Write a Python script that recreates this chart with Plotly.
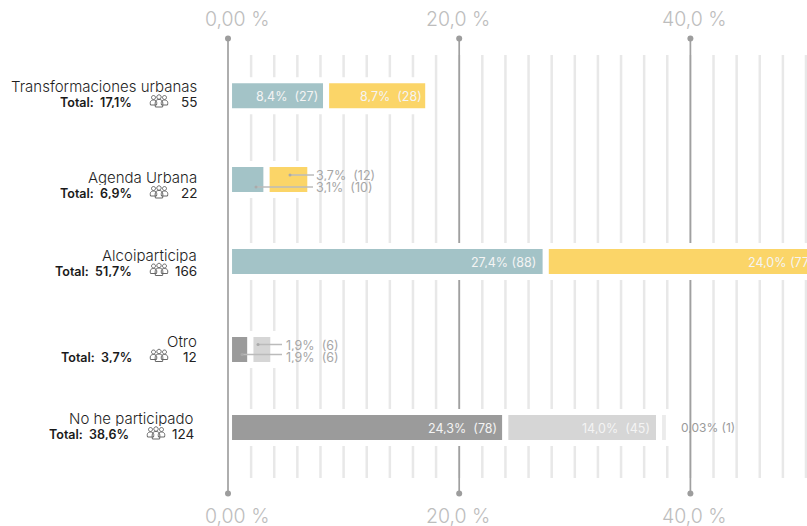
import plotly.graph_objects as go

# ---- data ----
rows = ["Transformaciones urbanas", "Agenda Urbana", "Alcoiparticipa", "Otro", "No he participado"]
totals = ["17,1%", "6,9%", "51,7%", "3,7%", "38,6%"]
counts = ["55", "22", "166", "12", "124"]
seg1 = [8.4, 3.25, 27.4, 1.85, 23.9]
seg2 = [8.85, 3.8, 24.0, 2.0, 13.3]
seg3 = [0, 0, 0, 0, 0.85]
labels1 = ["8,4%  (27)", "3,1%  (10)", "27,4% (88)", "1,9%  (6)", "24,3%  (78)"]
labels2 = ["8,7%  (28)", "3,7%  (12)", "24,0% (77)", "1,9%  (6)", "14,0%  (45)"]
major_ticks = [0, 20, 40]
major_text_top = ["0,00 %", "20,0 %", "40,0 %"]
grid_vals = list(range(2, 52, 2))

# ---- layout helpers ----
W, H = 807, 526
ZERO = 228.0
UNIT = 11.56
row_y = [95.7, 179.5, 261.5, 349.5, 427.5]
name_y = [86.5, 177, 255, 341.5, 418]
total_y = [102, 193, 270.5, 356.5, 434]
base0 = 0.09
colors1 = ["#A3C3C7", "#A3C3C7", "#A3C3C7", "#9B9B9B", "#9B9B9B"]
colors2 = ["#FBD568", "#FBD568", "#FBD568", "#D6D6D6", "#D6D6D6"]
colors3 = ["#EBEBEB"] * 5
FONT = "Inter"


def d(px):
    return (px - ZERO) / UNIT


fig = go.Figure()

# grid
gx, gy = [], []
for v in grid_vals:
    gx += [v, v, None]
    gy += [55, 478, None]
fig.add_trace(go.Scatter(x=gx, y=gy, mode="lines", line=dict(color="#E8E8E8", width=2.5), zorder=-3, hoverinfo="skip"))

# main axis lines
for v in major_ticks:
    fig.add_trace(go.Scatter(x=[v, v], y=[38.5, 493.5], mode="lines+markers",
                             line=dict(color="#A0A0A0", width=1.7), marker=dict(color="#9D9D9D", size=6),
                             zorder=2 if v == 0 else -2, hoverinfo="skip"))

# bars
b2 = [base0 + a for a in seg1]
b3 = [base0 + a + b for a, b in zip(seg1, seg2)]
for vals, base, cols in [(seg1, [base0] * 5, colors1), (seg2, b2, colors2), (seg3, b3, colors3)]:
    fig.add_trace(go.Bar(x=vals, y=row_y, base=base, orientation="h", width=31, zorder=0,
                         marker=dict(color=cols, line=dict(color="white", width=6)), hoverinfo="skip"))

# leader lines
leaders = [
    (290, 314, 175), (256, 313, 187), (258, 282, 344.5), (242, 282, 354.5),
]
for x0, x1, y in leaders:
    fig.add_trace(go.Scatter(x=[d(x0), d(x1)], y=[y, y], mode="lines", line=dict(color="#BBBBBB", width=1.5),
                             zorder=3, hoverinfo="skip"))
    fig.add_trace(go.Scatter(x=[d(x0)], y=[y], mode="markers", marker=dict(color="#AAAAAA", size=3),
                             zorder=3, hoverinfo="skip"))


def text(px, py, s, size, color, anchor="right", weight=400):
    fig.add_annotation(x=d(px), y=py, text=s, showarrow=False, xanchor=anchor, yanchor="middle",
                       xref="x", yref="y", borderpad=0, borderwidth=0, height=round(size * 1.0),
                       valign="middle",
                       font=dict(family=FONT, size=size, color=color, weight=weight))


# axis tick labels
tick_px = [236.5, 458, 694]
for px, s in zip(tick_px, major_text_top):
    text(px, 19, s, 19.5, "#BDBDBD", "center", 300)
    text(px, 515.5, s, 19.5, "#BDBDBD", "center", 300)

# in-bar labels
WHITE = "#F4F4F4"
text(318, 95.7, labels1[0], 12.5, WHITE)
text(422, 95.7, labels2[0], 12.5, WHITE)
text(536, 261.5, labels1[2], 12.5, WHITE)
text(748, 261.5, labels2[2], 12.5, WHITE, "left")
text(497, 427.5, labels1[4], 12.5, WHITE)
text(650, 427.5, labels2[4], 12.5, WHITE)

# outside labels
GREY = "#A6A6A6"
text(316, 174.5, labels2[1], 12.5, GREY, "left")
text(316, 186.5, labels1[1], 12.5, GREY, "left")
text(286, 344.5, labels2[3], 12.5, GREY, "left")
text(286, 356.5, labels1[3], 12.5, GREY, "left")
text(681, 427, "0,03% (1)", 12, "#9A9A9A", "left")

# row labels
right_name = [197, 197, 197, 197, 194]
right_total = [132, 132, 132, 132, 129]
icon_x = [159, 159, 159, 159, 156]


def circle(cx, cy, r):
    k = r * 0.55
    return (f"M{cx - r},{cy} C{cx - r},{cy + k} {cx - k},{cy + r} {cx},{cy + r} "
            f"C{cx + k},{cy + r} {cx + r},{cy + k} {cx + r},{cy} "
            f"C{cx + r},{cy - k} {cx + k},{cy - r} {cx},{cy - r} "
            f"C{cx - k},{cy - r} {cx - r},{cy - k} {cx - r},{cy} Z ")


def body(cx, top, bottom, hw):
    return (f"M{cx - hw},{bottom} C{cx - hw - 1},{top - 1} {cx - hw + 1},{top} {cx},{top} "
            f"C{cx + hw - 1},{top} {cx + hw + 1},{top - 1} {cx + hw},{bottom} Z ")


icon_path = (circle(-5.5, 3.5, 2) + circle(0, 4, 2.2) + circle(5.5, 3.5, 2)
             + body(-5.5, 1, -4, 3) + body(5.5, 1, -4, 3) + body(0, 1.5, -6, 3.6))

for i, (name, tot, cnt) in enumerate(zip(rows, totals, counts)):
    text(right_name[i], name_y[i], name, 15, "#1F1F1F", "right", 300)
    text(right_total[i], total_y[i], f"Total:  {tot}", 12.5, "#1A1A1A", "right", 600)
    text(right_name[i], total_y[i], cnt, 13.5, "#222222", "right", 400)
    fig.add_shape(type="path", xref="x", yref="y", xsizemode="pixel", ysizemode="pixel",
                  xanchor=d(icon_x[i]), yanchor=total_y[i] - 1, path=icon_path, layer="above",
                  line=dict(color="#666666", width=1), fillcolor="white")

fig.update_layout(
    width=W, height=H, margin=dict(l=0, r=0, t=0, b=0), barmode="overlay", showlegend=False,
    paper_bgcolor="white", plot_bgcolor="white",
    xaxis=dict(range=[d(0), d(W)], visible=False, fixedrange=True),
    yaxis=dict(range=[H, 0], visible=False, fixedrange=True),
)
fig.write_html("out.html", config={"displayModeBar": False},
               post_script="document.body.style.margin='0';document.body.style.overflow='hidden';")
